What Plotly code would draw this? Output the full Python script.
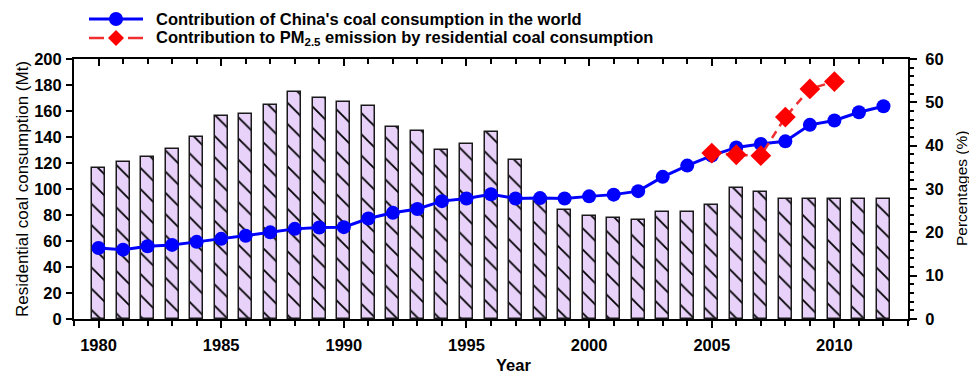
import plotly.graph_objects as go

# Data
years = list(range(1980, 2013))
residential_coal_mt = [116, 121, 125, 131, 140, 156, 158, 165, 175, 170, 167, 164,
                       148, 145, 130, 135, 144, 122, 91, 84, 79, 78, 76, 82,
                       82, 88, 101, 98, 92, 92, 92, 92.5, 92]
china_share_pct = [16.4, 16.0, 16.8, 17.1, 17.8, 18.5, 19.2, 20.0, 20.8, 21.1, 21.2,
                   23.2, 24.5, 25.4, 27.2, 27.8, 28.8, 27.8, 27.9, 27.8, 28.3, 28.7,
                   29.5, 32.8, 35.4, 37.7, 39.6, 40.4, 41.0, 44.8, 45.8, 47.7, 49.1]
pm25_years = [2005, 2006, 2007, 2008, 2009, 2010]
pm25_share_pct = [38.3, 37.9, 37.7, 46.6, 53.1, 54.8]

legend_labels = ["Contribution of China's coal consumption in the world",
                 "Contribution to PM<sub>2.5</sub> emission by residential coal consumption"]

FONT = "Arial, Liberation Sans, sans-serif"
BLUE = "#0000FF"
RED = "#FF0000"

W, H = 969, 376
L, R, T, B = 74, 61, 59, 57
PW, PH = W - L - R, H - T - B


def px_x(px):
    return (px - L) / PW


def px_y(py):
    return (H - B - py) / PH


fig = go.Figure()

fig.add_trace(go.Bar(
    x=years, y=residential_coal_mt, width=0.53,
    marker=dict(color="#E8D2FA",
                line=dict(color="#1a1a1a", width=1.5),
                pattern=dict(shape="\\", fgcolor="#000000", bgcolor="#E8D2FA",
                             fgopacity=1, size=15, solidity=0.12)),
    showlegend=False, yaxis="y", xaxis="x",
))

fig.add_trace(go.Scatter(
    x=years, y=china_share_pct, mode="lines+markers",
    line=dict(color=BLUE, width=3),
    marker=dict(symbol="circle", size=14, color=BLUE),
    showlegend=False, yaxis="y2", xaxis="x",
))

fig.add_trace(go.Scatter(
    x=pm25_years, y=pm25_share_pct, mode="lines+markers",
    line=dict(color="#F03030", width=2.5, dash="8px,6px"),
    marker=dict(symbol="diamond", size=16, color=RED),
    showlegend=False, yaxis="y2", xaxis="x",
))

tickfont = dict(family=FONT, size=16.5, color="black", weight="bold")

fig.update_layout(
    width=W, height=H,
    margin=dict(l=L, r=R, t=T, b=B),
    paper_bgcolor="white", plot_bgcolor="white",
    font=dict(family=FONT, color="black"),
    bargap=0,
    xaxis=dict(
        range=[1979, 2013], tickmode="linear", tick0=1980, dtick=5,
        showgrid=False, zeroline=False,
        showline=True, linecolor="black", linewidth=2,
        ticks="outside", ticklen=7, tickwidth=2, tickcolor="black",
        tickfont=tickfont, ticklabelstandoff=3,
        minor=dict(dtick=1, tick0=1980, ticks="outside", ticklen=5,
                   tickwidth=1.5, tickcolor="black", showgrid=False),
    ),
    xaxis2=dict(
        range=[1979, 2013], overlaying="x", side="top", matches="x",
        tickmode="linear", tick0=1980, dtick=5,
        showgrid=False, zeroline=False, showticklabels=False,
        showline=True, linecolor="black", linewidth=2,
        ticks="inside", ticklen=7, tickwidth=2, tickcolor="black",
        minor=dict(dtick=1, tick0=1980, ticks="inside", ticklen=5,
                   tickwidth=1.5, tickcolor="black", showgrid=False),
    ),
    yaxis=dict(
        range=[0, 200], tickmode="linear", tick0=0, dtick=20,
        showgrid=False, zeroline=False,
        showline=True, linecolor="black", linewidth=2,
        ticks="outside", ticklen=6, tickwidth=2, tickcolor="black",
        tickfont=tickfont, ticklabelstandoff=1,
    ),
    yaxis2=dict(
        range=[0, 60], tickmode="linear", tick0=0, dtick=10,
        overlaying="y", side="right",
        showgrid=False, zeroline=False,
        showline=True, linecolor="black", linewidth=2,
        ticks="outside", ticklen=7, tickwidth=2, tickcolor="black",
        tickfont=tickfont, ticklabelstandoff=5,
        minor=dict(dtick=2, ticks="outside", ticklen=4, tickwidth=1.5,
                   tickcolor="black", showgrid=False),
    ),
)

# Invisible trace so the top axis is drawn
fig.add_trace(go.Scatter(x=[years[0]], y=[0], xaxis="x2", yaxis="y",
                         mode="markers", marker=dict(opacity=0),
                         showlegend=False, hoverinfo="skip"))

annotations = [
    dict(text="Residential coal consumption (Mt)", x=px_x(22), y=0.5,
         xref="paper", yref="paper", textangle=-90, showarrow=False,
         xanchor="center", yanchor="middle",
         font=dict(family=FONT, size=17, color="black")),
    dict(text="Percentages (%)", x=px_x(961), y=0.5,
         xref="paper", yref="paper", textangle=-90, showarrow=False,
         xanchor="center", yanchor="middle",
         font=dict(family=FONT, size=15.5, color="black")),
    dict(text="Year", x=px_x(513), y=px_y(365),
         xref="paper", yref="paper", showarrow=False,
         xanchor="center", yanchor="middle",
         font=dict(family=FONT, size=16.5, color="black", weight="bold")),
]

# Legend drawn as shapes and text above the plot
legend_rows = [19, 38]
for label, row_y in zip(legend_labels, legend_rows):
    annotations.append(dict(
        text=label, x=px_x(154), y=px_y(row_y), xref="paper", yref="paper",
        showarrow=False, xanchor="left", yanchor="middle",
        font=dict(family=FONT, size=16.5, color="black", weight="bold")))

shapes = [
    # blue solid line with circle
    dict(type="line", xref="paper", yref="paper",
         x0=px_x(89), x1=px_x(143), y0=px_y(19), y1=px_y(19),
         line=dict(color=BLUE, width=3)),
    dict(type="circle", xref="paper", yref="paper",
         xsizemode="pixel", ysizemode="pixel",
         xanchor=px_x(116), yanchor=px_y(19),
         x0=-7, x1=7, y0=-7, y1=7,
         fillcolor=BLUE, line=dict(color=BLUE, width=0)),
    # red dashed line with diamond
    dict(type="line", xref="paper", yref="paper",
         x0=px_x(89), x1=px_x(104), y0=px_y(38), y1=px_y(38),
         line=dict(color="#F03030", width=2.5)),
    dict(type="line", xref="paper", yref="paper",
         x0=px_x(128), x1=px_x(143), y0=px_y(38), y1=px_y(38),
         line=dict(color="#F03030", width=2.5)),
    dict(type="path", xref="paper", yref="paper",
         xsizemode="pixel", ysizemode="pixel",
         xanchor=px_x(116), yanchor=px_y(38),
         path="M -8 0 L 0 8 L 8 0 L 0 -8 Z",
         fillcolor=RED, line=dict(color=RED, width=0)),
]

fig.update_layout(annotations=annotations, shapes=shapes)

fig.write_html("out.html")
